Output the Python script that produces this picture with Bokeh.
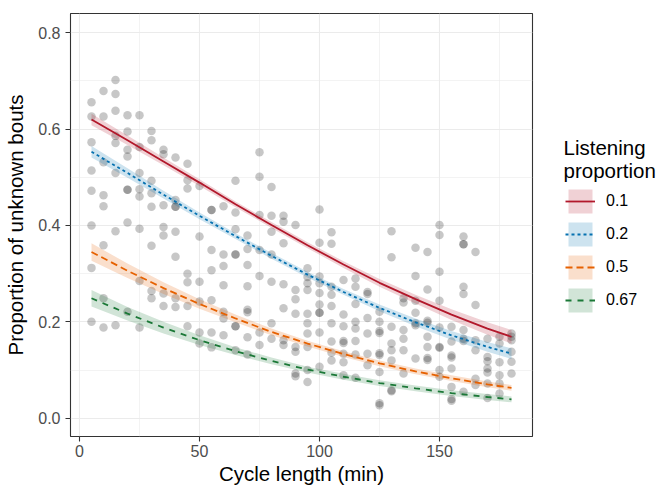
from bokeh.plotting import figure
from bokeh.layouts import row
from bokeh.models import (FixedTicker, PrintfTickFormatter, Legend,
                          LegendItem, Range1d, Label)
from bokeh.embed import file_html
from bokeh.resources import INLINE

# ---------------- data ----------------
cycle_values = [5, 10, 15, 20, 25, 30, 35, 40, 45, 50, 55, 60, 65, 70, 75, 80, 85, 90,
                95, 100, 105, 110, 115, 120, 125, 130, 135, 140, 145, 150, 155, 160,
                165, 170, 175, 180]
prop_by_cycle = [
    [0.656, 0.626, 0.573, 0.514, 0.472, 0.400, 0.312, 0.200],
    [0.679, 0.626, 0.531, 0.463, 0.440, 0.359, 0.249, 0.188],
    [0.702, 0.673, 0.638, 0.586, 0.571, 0.509, 0.388, 0.193],
    [0.629, 0.595, 0.557, 0.543, 0.474, 0.474, 0.406, 0.221],
    [0.629, 0.563, 0.509, 0.475, 0.460, 0.393, 0.285, 0.188],
    [0.596, 0.577, 0.493, 0.467, 0.439, 0.358, 0.264, 0.249],
    [0.557, 0.548, 0.442, 0.397, 0.379, 0.259, 0.233],
    [0.541, 0.453, 0.439, 0.439, 0.387, 0.335, 0.249, 0.231],
    [0.528, 0.494, 0.477, 0.300, 0.282, 0.233, 0.191],
    [0.482, 0.377, 0.283, 0.242, 0.178, 0.155],
    [0.432, 0.432, 0.349, 0.307, 0.245, 0.178, 0.147],
    [0.440, 0.340, 0.316, 0.276, 0.221, 0.207, 0.172],
    [0.493, 0.427, 0.392, 0.340, 0.340, 0.191, 0.191, 0.141],
    [0.379, 0.351, 0.318, 0.274, 0.225, 0.220, 0.168, 0.132],
    [0.552, 0.501, 0.422, 0.349, 0.295, 0.178, 0.152],
    [0.480, 0.420, 0.387, 0.340, 0.283, 0.197, 0.165],
    [0.420, 0.408, 0.363, 0.278, 0.228, 0.162, 0.152],
    [0.401, 0.266, 0.247, 0.217, 0.148, 0.138, 0.093, 0.087],
    [0.311, 0.293, 0.280, 0.266, 0.217, 0.197, 0.176, 0.148, 0.100, 0.075],
    [0.433, 0.364, 0.294, 0.280, 0.260, 0.236, 0.219, 0.219, 0.178, 0.107],
    [0.386, 0.362, 0.273, 0.256, 0.233, 0.197, 0.159, 0.136, 0.120],
    [0.287, 0.215, 0.191, 0.160, 0.156, 0.134, 0.116, 0.089],
    [0.290, 0.273, 0.237, 0.200, 0.186, 0.160, 0.132, 0.084],
    [0.262, 0.258, 0.208, 0.176, 0.134, 0.110],
    [0.221, 0.200, 0.181, 0.177, 0.135, 0.131, 0.096, 0.031, 0.027],
    [0.388, 0.334, 0.190, 0.155, 0.141, 0.120, 0.058, 0.056],
    [0.249, 0.240, 0.183, 0.165, 0.141, 0.093],
    [0.354, 0.295, 0.244, 0.219, 0.197, 0.193, 0.124],
    [0.345, 0.267, 0.202, 0.198, 0.169, 0.148, 0.125, 0.121],
    [0.401, 0.380, 0.304, 0.244, 0.188, 0.148, 0.146, 0.100, 0.086],
    [0.190, 0.159, 0.130, 0.126, 0.103, 0.065, 0.040, 0.036],
    [0.377, 0.361, 0.361, 0.273, 0.258, 0.183, 0.165, 0.160, 0.055],
    [0.345, 0.235, 0.162, 0.141, 0.082, 0.069],
    [0.165, 0.127, 0.118, 0.103, 0.095, 0.072, 0.042],
    [0.169, 0.155, 0.116, 0.089, 0.072, 0.051],
    [0.176, 0.169, 0.162, 0.138, 0.117, 0.093],
]

fit_cycle = [5, 20, 35, 50, 65, 80, 95, 110, 125, 140, 155, 170, 180]
groups = ["0.1", "0.2", "0.5", "0.67"]
fit_01 = [0.620, 0.577, 0.533, 0.489, 0.444, 0.401, 0.359, 0.319, 0.281, 0.247, 0.215, 0.186, 0.169]
fit_02 = [0.553, 0.509, 0.464, 0.420, 0.378, 0.337, 0.298, 0.262, 0.229, 0.199, 0.172, 0.148, 0.134]
fit_05 = [0.345, 0.306, 0.270, 0.237, 0.207, 0.179, 0.155, 0.133, 0.114, 0.097, 0.083, 0.070, 0.063]
fit_067 = [0.249, 0.217, 0.188, 0.162, 0.139, 0.119, 0.101, 0.086, 0.073, 0.062, 0.052, 0.044, 0.039]
se_01 = [0.012, 0.010, 0.008, 0.007, 0.006, 0.006, 0.006, 0.007, 0.008, 0.009, 0.011, 0.013, 0.014]
se_02 = [0.012, 0.010, 0.008, 0.007, 0.006, 0.006, 0.006, 0.006, 0.007, 0.008, 0.009, 0.010, 0.011]
se_05 = [0.018, 0.015, 0.012, 0.010, 0.008, 0.007, 0.006, 0.006, 0.006, 0.006, 0.006, 0.006, 0.006]
se_067 = [0.017, 0.014, 0.012, 0.010, 0.008, 0.007, 0.006, 0.006, 0.006, 0.006, 0.006, 0.006, 0.006]

x_ticks = [0, 50, 100, 150]
x_minor = [25, 75, 125, 175]
y_ticks = [0.0, 0.2, 0.4, 0.6, 0.8]
y_minor = [0.1, 0.3, 0.5, 0.7]

x_title = "Cycle length (min)"
y_title = "Proportion of unknown bouts"
legend_title = ["Listening", "proportion"]

# ---------------- styling ----------------
FONT = "Liberation Sans"
colors = ["#B2182B", "#0571B0", "#E66101", "#1B7837"]
dashes = ["solid", "3 3", "7 4", "6 6"]
LW = 1.8

p = figure(width=540, height=487, output_backend="svg", toolbar_location=None,
           x_range=Range1d(-3.75, 188.75), y_range=Range1d(-0.038, 0.84),
           min_border_left=70, min_border_right=8, min_border_top=13, min_border_bottom=51)
p.outline_line_color = "#333333"
p.outline_line_width = 1.1
p.background_fill_color = "white"
p.border_fill_color = "white"

for ax, ticks, minor in [(p.xaxis[0], x_ticks, x_minor), (p.yaxis[0], y_ticks, y_minor)]:
    ax.ticker = FixedTicker(ticks=ticks, minor_ticks=minor)
    ax.axis_line_color = None
    ax.major_tick_line_color = "#333333"
    ax.major_tick_line_width = 1.1
    ax.major_tick_in = 0
    ax.major_tick_out = 5
    ax.minor_tick_line_color = None
    ax.major_label_text_font = FONT
    ax.major_label_text_font_size = "16px"
    ax.major_label_text_color = "#4D4D4D"
    ax.axis_label_text_font = FONT
    ax.axis_label_text_font_size = "20.5px"
    ax.axis_label_text_font_style = "normal"
    ax.axis_label_text_color = "black"
p.yaxis[0].formatter = PrintfTickFormatter(format="%.1f")
p.xaxis[0].axis_label = x_title
p.yaxis[0].axis_label = y_title
p.xaxis[0].major_label_standoff = 3
p.xaxis[0].axis_label_standoff = 2
p.yaxis[0].major_label_standoff = 5
p.yaxis[0].axis_label_standoff = 8

for g in [p.xgrid[0], p.ygrid[0]]:
    g.grid_line_color = "#EBEBEB"
    g.grid_line_width = 1.1
    g.minor_grid_line_color = "#EBEBEB"
    g.minor_grid_line_width = 0.6

# points
px, py = [], []
for c, vals in zip(cycle_values, prop_by_cycle):
    for v in vals:
        px.append(c)
        py.append(v)
p.scatter(px, py, size=8.5, fill_color="black", fill_alpha=0.22, line_color=None)

# legend panel: a separate figure (its frame is aligned with the main frame);
# its x range lies far from the data so only the legend keys show
leg = figure(width=120, height=487, output_backend="svg", toolbar_location=None,
             x_range=Range1d(1000, 1120), y_range=Range1d(0, 423),
             x_axis_type=None, y_axis_type=None,
             min_border_left=0, min_border_right=0, min_border_top=13, min_border_bottom=51)
leg.outline_line_color = None
leg.background_fill_color = "white"
leg.border_fill_color = "white"

items = []
for g, fit, se, col, dash in zip(groups, [fit_01, fit_02, fit_05, fit_067],
                                  [se_01, se_02, se_05, se_067], colors, dashes):
    lo = [f - s for f, s in zip(fit, se)]
    hi = [f + s for f, s in zip(fit, se)]
    p.varea(x=fit_cycle, y1=lo, y2=hi, fill_color=col, fill_alpha=0.2)
    p.line(x=fit_cycle, y=fit, line_color=col, line_width=LW, line_dash=dash)
    ka = leg.varea(x=fit_cycle, y1=lo, y2=hi, fill_color=col, fill_alpha=0.2)
    kl = leg.line(x=fit_cycle, y=fit, line_color=col, line_width=LW, line_dash=dash)
    items.append(LegendItem(label=g, renderers=[ka, kl]))

legend = Legend(items=items, location=(25, 121), padding=0, margin=0,
                border_line_color=None, background_fill_alpha=0,
                glyph_width=30, glyph_height=30, label_height=30, spacing=3,
                label_standoff=11, label_text_font=FONT, label_text_font_size="16px",
                label_text_baseline="middle", label_text_color="black")
leg.add_layout(legend, "center")
for txt, yy in zip(legend_title, [289, 266]):
    leg.add_layout(Label(x=1023, y=yy, text=txt, text_font=FONT, text_font_size="20.5px",
                         text_align="left", text_baseline="alphabetic", text_color="black"))

layout = row(p, leg, spacing=0)
open("out.html", "w").write(file_html(layout, INLINE))
